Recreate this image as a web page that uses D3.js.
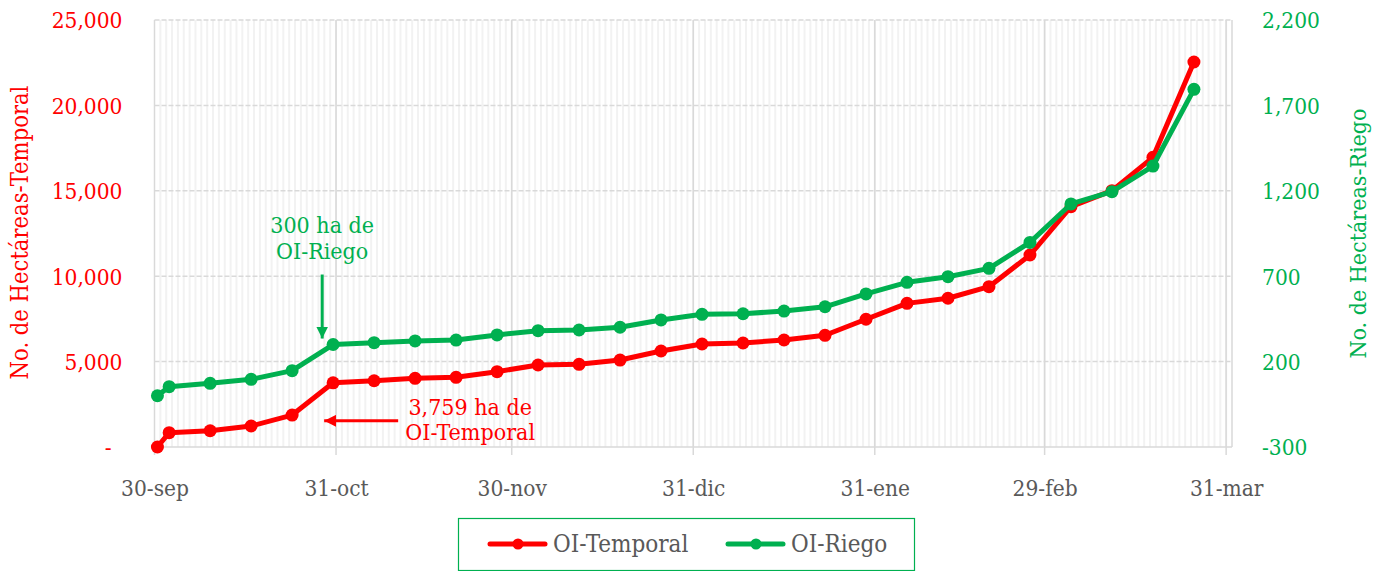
<!DOCTYPE html>
<html>
<head>
<meta charset="utf-8">
<script src="https://cdn.jsdelivr.net/npm/d3@7"></script>
<style>
  body { margin: 0; background: #fff; }
  svg text { font-family: "DejaVu Serif", serif; font-stretch: condensed; }
</style>
</head>
<body>
<div id="chart"></div>
<script>
// weekly dates (UTC)
var dates = ["2023-09-30","2023-10-02","2023-10-09","2023-10-16","2023-10-23","2023-10-30",
             "2023-11-06","2023-11-13","2023-11-20","2023-11-27","2023-12-04","2023-12-11",
             "2023-12-18","2023-12-25","2024-01-01","2024-01-08","2024-01-15","2024-01-22",
             "2024-01-29","2024-02-05","2024-02-12","2024-02-19","2024-02-26","2024-03-04",
             "2024-03-11","2024-03-18","2024-03-25"];
var temporal = [0, 840, 950, 1230, 1870, 3759, 3880, 4020, 4080, 4410, 4800, 4840, 5090, 5620,
                6030, 6090, 6265, 6540, 7480, 8410, 8710, 9385, 11240, 14070, 15010, 16960, 22540];
var riego = [0, 53, 73, 96, 147, 300, 311, 321, 326, 356, 381, 385, 401, 444,
             477, 480, 496, 521, 596, 664, 697, 746, 898, 1123, 1195, 1345, 1794];

var tickDates = ["2023-09-30","2023-10-31","2023-11-30","2023-12-31","2024-01-31","2024-02-29","2024-03-31"];
var tickLabels = ["30-sep","31-oct","30-nov","31-dic","31-ene","29-feb","31-mar"];
var leftTicks = [0, 5000, 10000, 15000, 20000, 25000];
var rightTicks = [-300, 200, 700, 1200, 1700, 2200];

var RED = "#FF0000", GREEN = "#00B050", GRID = "#D9D9D9";
var width = 1378, height = 571;
var plot = {left: 154.5, right: 1232, top: 20, bottom: 447};

var svg = d3.select("#chart").append("svg")
    .attr("width", width)
    .attr("height", height);

var parse = function (s) { return new Date(s + "T00:00:00Z"); };
var mid = function (s) { return d3.utcHour.offset(parse(s), 12); };
var fmt = d3.formatLocale({decimal: ".", thousands: ",", grouping: [3], currency: ["", ""], minus: "-"}).format(",");

var x = d3.scaleUtc()
    .domain([parse("2023-09-30"), parse("2024-04-01")])
    .range([plot.left, plot.right]);
var yL = d3.scaleLinear().domain([0, 25000]).range([plot.bottom, plot.top]);
var yR = d3.scaleLinear().domain([-300, 2200]).range([plot.bottom, plot.top]);

// daily minor gridlines
var days = d3.utcDay.range(parse("2023-10-01"), parse("2024-04-01"));
svg.append("g").selectAll("line")
    .data(days)
    .enter().append("line")
    .attr("x1", function (d) { return x(d); })
    .attr("x2", function (d) { return x(d); })
    .attr("y1", plot.top)
    .attr("y2", plot.bottom)
    .attr("stroke", "#F2F2F2")
    .attr("stroke-width", 2);

// horizontal gridlines
svg.append("g").selectAll("line")
    .data(leftTicks)
    .enter().append("line")
    .attr("x1", plot.left)
    .attr("x2", plot.right)
    .attr("y1", function (d) { return yL(d); })
    .attr("y2", function (d) { return yL(d); })
    .attr("stroke", GRID)
    .attr("stroke-width", 1.5)
    .attr("stroke-dasharray", function (d) { return d === 0 ? null : "5,2"; });

// major (month) gridlines
var tickD = tickDates.map(parse);
svg.append("g").selectAll("line")
    .data(tickD)
    .enter().append("line")
    .attr("x1", function (d) { return x(d); })
    .attr("x2", function (d) { return x(d); })
    .attr("y1", plot.top)
    .attr("y2", plot.bottom + 8)
    .attr("stroke", GRID)
    .attr("stroke-width", 1.5);
svg.append("line")
    .attr("x1", plot.right).attr("x2", plot.right)
    .attr("y1", plot.top).attr("y2", plot.bottom)
    .attr("stroke", GRID).attr("stroke-width", 1.5);

// x axis labels
var xAxis = d3.axisBottom(x)
    .tickValues(tickD)
    .tickSize(0)
    .tickPadding(0)
    .tickFormat(function (d, i) { return tickLabels[i]; });
var gx = svg.append("g")
    .attr("transform", "translate(0," + (plot.bottom + 33) + ")")
    .call(xAxis);
gx.select(".domain").remove();
gx.selectAll("text").attr("fill", "#595959").style("font-size", "22.5px");

// left axis
var gl = svg.append("g")
    .attr("transform", "translate(" + (plot.left - 32) + ",0)")
    .call(d3.axisLeft(yL).tickValues(leftTicks).tickSize(0).tickPadding(0)
        .tickFormat(function (d) { return d === 0 ? "-" : fmt(d); }));
gl.select(".domain").remove();
gl.selectAll("text").attr("fill", RED).style("font-size", "22.5px").attr("dy", "0.35em")
    .attr("dx", function (d) { return d === 0 ? -11 : 0; });

// right axis
var gr = svg.append("g")
    .attr("transform", "translate(" + (plot.right + 30) + ",0)")
    .call(d3.axisRight(yR).tickValues(rightTicks).tickSize(0).tickPadding(0)
        .tickFormat(fmt));
gr.select(".domain").remove();
gr.selectAll("text").attr("fill", GREEN).style("font-size", "22.5px").attr("dy", "0.35em")
    .attr("dx", function (d) { return d > 0 && d < 1000 ? 0 : 0; });

// axis titles
svg.append("text")
    .attr("transform", "translate(28," + ((plot.top + plot.bottom) / 2 - 1) + ") rotate(-90)")
    .attr("text-anchor", "middle")
    .attr("fill", RED)
    .style("font-size", "23.5px")
    .text("No. de Hectáreas-Temporal");
svg.append("text")
    .attr("transform", "translate(1366," + ((plot.top + plot.bottom) / 2) + ") rotate(-90)")
    .attr("text-anchor", "middle")
    .attr("fill", GREEN)
    .style("font-size", "23px")
    .text("No. de Hectáreas-Riego");

// series
function drawSeries(values, y, color) {
    var pts = dates.map(function (d, i) { return {date: mid(d), value: values[i]}; });
    var line = d3.line()
        .x(function (d) { return x(d.date); })
        .y(function (d) { return y(d.value); });
    svg.append("path")
        .datum(pts)
        .attr("d", line)
        .attr("fill", "none")
        .attr("stroke", color)
        .attr("stroke-width", 5)
        .attr("stroke-linejoin", "round");
    svg.append("g").selectAll("circle")
        .data(pts)
        .enter().append("circle")
        .attr("cx", function (d) { return x(d.date); })
        .attr("cy", function (d) { return y(d.value); })
        .attr("r", 6.5)
        .attr("fill", color);
}
drawSeries(temporal, yL, RED);
drawSeries(riego, yR, GREEN);

// annotations
var defs = svg.append("defs");
[["arrowG", GREEN], ["arrowR", RED]].forEach(function (a) {
    defs.append("marker")
        .attr("id", a[0])
        .attr("viewBox", "0 0 10 10")
        .attr("refX", 10).attr("refY", 5)
        .attr("markerWidth", 4).attr("markerHeight", 4)
        .attr("markerUnits", "strokeWidth")
        .attr("orient", "auto")
        .append("path")
        .attr("d", "M0,0 L10,5 L0,10 z")
        .attr("fill", a[1]);
});

var gxA = x(parse("2023-10-30")) - 8;   // green note
var gyA = yR(300);
svg.append("line")
    .attr("x1", gxA).attr("x2", gxA)
    .attr("y1", gyA - 70).attr("y2", gyA - 6)
    .attr("stroke", GREEN).attr("stroke-width", 3)
    .attr("marker-end", "url(#arrowG)");
var gNote = svg.append("text")
    .attr("text-anchor", "middle")
    .attr("fill", GREEN)
    .style("font-size", "23px");
gNote.append("tspan").attr("x", gxA).attr("y", gyA - 112).text("300 ha de");
gNote.append("tspan").attr("x", gxA).attr("y", gyA - 86).text("OI-Riego");

var ryA = yL(3759) + 38;                 // red note
var rxA = x(parse("2023-10-30"));
svg.append("line")
    .attr("x1", rxA + 68).attr("x2", rxA - 6)
    .attr("y1", ryA).attr("y2", ryA)
    .attr("stroke", RED).attr("stroke-width", 3)
    .attr("marker-end", "url(#arrowR)");
var rNote = svg.append("text")
    .attr("text-anchor", "middle")
    .attr("fill", RED)
    .style("font-size", "23px");
rNote.append("tspan").attr("x", rxA + 140).attr("y", ryA - 6).text("3,759 ha de");
rNote.append("tspan").attr("x", rxA + 140).attr("y", ryA + 19).text("OI-Temporal");

// legend
var lg = svg.append("g");
lg.append("rect")
    .attr("x", 458.5).attr("y", 518.5)
    .attr("width", 456).attr("height", 52)
    .attr("fill", "#fff")
    .attr("stroke", GREEN).attr("stroke-width", 1.2);
[["OI-Temporal", RED, 490], ["OI-Riego", GREEN, 728]].forEach(function (it) {
    lg.append("line")
        .attr("x1", it[2]).attr("x2", it[2] + 55)
        .attr("y1", 544).attr("y2", 544)
        .attr("stroke", it[1]).attr("stroke-width", 5)
        .attr("stroke-linecap", "round");
    lg.append("circle")
        .attr("cx", it[2] + 28).attr("cy", 544).attr("r", 5.5)
        .attr("fill", it[1]);
    lg.append("text")
        .attr("x", it[2] + 63).attr("y", 552)
        .attr("fill", "#595959")
        .style("font-size", "24px")
        .text(it[0]);
});
</script>
</body>
</html>
